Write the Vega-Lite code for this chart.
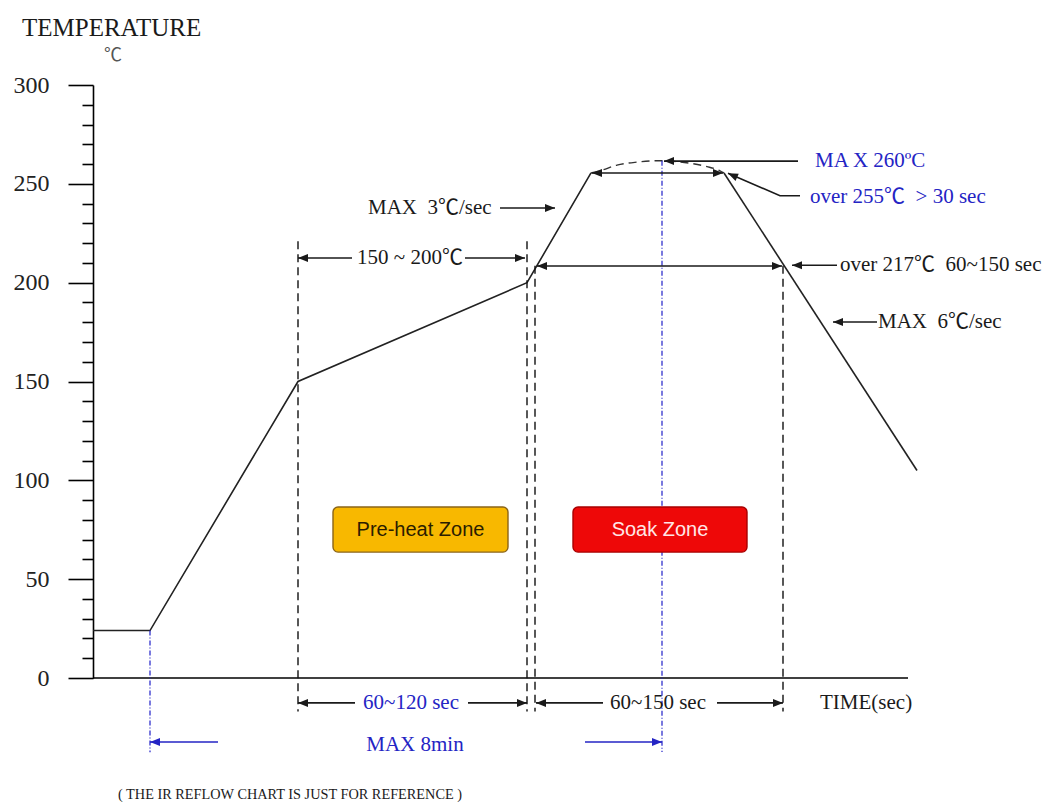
{
  "$schema": "https://vega.github.io/schema/vega-lite/v6.json",
  "width": 951,
  "height": 593,
  "autosize": {"type": "none"},
  "padding": {"left": 93, "top": 85, "right": 0, "bottom": 124},
  "background": "white",
  "config": {
    "view": {"stroke": null},
    "text": {"font": "Liberation Serif, Noto Sans CJK SC, serif", "baseline": "middle"}
  },
  "datasets": {
    "profile": [
      {"t": 0, "T": 24, "seg": "ramp"},
      {"t": 57, "T": 24, "seg": "ramp"},
      {"t": 205, "T": 150, "seg": "ramp"},
      {"t": 434, "T": 200, "seg": "ramp"},
      {"t": 498, "T": 255.5, "seg": "ramp"},
      {"t": 631, "T": 255.5, "seg": "cool"},
      {"t": 824, "T": 105, "seg": "cool"}
    ],
    "peak": [
      {"t": 498, "T": 255.5},
      {"t": 507, "T": 256.6},
      {"t": 524, "T": 259.5},
      {"t": 544, "T": 261},
      {"t": 567, "T": 261.7},
      {"t": 597, "T": 260.4},
      {"t": 614, "T": 258.7},
      {"t": 627, "T": 256.6},
      {"t": 631, "T": 255.5}
    ],
    "xaxis": [{"t": 0, "t2": 815, "T": 0}],
    "guides": [
      {"t": 205, "T": 221, "T2": -17},
      {"t": 434, "T": 221, "T2": -17},
      {"t": 442, "T": 208.5, "T2": -17},
      {"t": 690, "T": 208.5, "T2": -17}
    ],
    "timeGuides": [
      {"t": 57, "T": 24, "T2": -37.5},
      {"t": 569, "T": 261.7, "T2": -37.5}
    ],
    "segments": [
      {"t": 205, "t2": 259, "T": 212.5, "group": "spec"},
      {"t": 372, "t2": 432, "T": 212.5, "group": "spec"},
      {"t": 444, "t2": 689, "T": 208.4, "group": "spec"},
      {"t": 499, "t2": 630, "T": 255.5, "group": "spec"},
      {"t": 571, "t2": 705, "T": 261.5, "group": "spec"},
      {"t": 699, "t2": 744, "T": 208.8, "group": "spec"},
      {"t": 407, "t2": 462, "T": 237.8, "group": "spec"},
      {"t": 740, "t2": 784, "T": 180.1, "group": "spec"},
      {"t": 205, "t2": 262, "T": -12.6, "group": "spec"},
      {"t": 375, "t2": 434, "T": -12.6, "group": "spec"},
      {"t": 443, "t2": 510, "T": -12.6, "group": "spec"},
      {"t": 624, "t2": 690, "T": -12.6, "group": "spec"},
      {"t": 57, "t2": 125, "T": -32.4, "group": "limit"},
      {"t": 492, "t2": 569, "T": -32.4, "group": "limit"}
    ],
    "leader": [
      {"t": 635, "T": 255.3},
      {"t": 687, "T": 244},
      {"t": 707, "T": 244}
    ],
    "heads": [
      {"t": 205, "T": 212.5, "dir": "left", "group": "spec"},
      {"t": 432, "T": 212.5, "dir": "right", "group": "spec"},
      {"t": 444, "T": 208.4, "dir": "left", "group": "spec"},
      {"t": 689, "T": 208.4, "dir": "right", "group": "spec"},
      {"t": 499, "T": 255.5, "dir": "left", "group": "spec"},
      {"t": 630, "T": 255.5, "dir": "right", "group": "spec"},
      {"t": 571, "T": 261.5, "dir": "left", "group": "spec"},
      {"t": 699, "T": 208.8, "dir": "left", "group": "spec"},
      {"t": 462, "T": 237.8, "dir": "right", "group": "spec"},
      {"t": 740, "T": 180.1, "dir": "left", "group": "spec"},
      {"t": 205, "T": -12.6, "dir": "left", "group": "spec"},
      {"t": 434, "T": -12.6, "dir": "right", "group": "spec"},
      {"t": 443, "T": -12.6, "dir": "left", "group": "spec"},
      {"t": 690, "T": -12.6, "dir": "right", "group": "spec"},
      {"t": 635, "T": 255.3, "dir": "upleft", "group": "spec"},
      {"t": 57, "T": -32.4, "dir": "left", "group": "limit"},
      {"t": 569, "T": -32.4, "dir": "right", "group": "limit"}
    ],
    "notes": [
      {"t": 722, "T": 261.8, "label": "MA X 260ºC", "group": "limit"},
      {"t": 717, "T": 243.3, "label": "over 255℃\u00a0 > 30 sec", "group": "limit"},
      {"t": 747, "T": 208.8, "label": "over 217℃\u00a0 60~150 sec", "group": "spec"},
      {"t": 785, "T": 180.1, "label": "MAX\u00a0 6℃/sec", "group": "spec"},
      {"t": 275, "T": 237.8, "label": "MAX\u00a0 3℃/sec", "group": "spec"},
      {"t": 727, "T": -12.6, "label": "TIME(sec)", "group": "spec"}
    ],
    "dims": [
      {"t": 317, "T": 212.5, "label": "150 ~ 200℃", "group": "spec"},
      {"t": 318, "T": -12.6, "label": "60~120 sec", "group": "limit"},
      {"t": 565, "T": -12.6, "label": "60~150 sec", "group": "spec"},
      {"t": 322, "T": -33.9, "label": "MAX 8min", "group": "limit"}
    ],
    "zones": [
      {"zone": "Pre-heat Zone", "t": 240, "t2": 415, "T": 86.5, "T2": 63.7},
      {"zone": "Soak Zone", "t": 480, "t2": 654, "T": 86.5, "T2": 63.7}
    ],
    "zoneLabels": [
      {"zone": "Pre-heat Zone", "t": 327.5, "T": 75.1},
      {"zone": "Soak Zone", "t": 567, "T": 75.1}
    ]
  },
  "encoding": {
    "x": {"field": "t", "type": "quantitative", "scale": {"domain": [0, 951], "nice": false, "zero": false}, "axis": null},
    "y": {
      "field": "T", "type": "quantitative", "title": null,
      "scale": {"domain": [0, 300], "nice": false},
      "axis": {
        "values": [0,10,20,30,40,50,60,70,80,90,100,110,120,130,140,150,160,170,180,190,200,210,220,230,240,250,260,270,280,290,300],
        "tickSize": {"condition": {"test": "datum.value % 50 === 0", "value": 25}, "value": 11},
        "labelExpr": "datum.value % 50 === 0 ? datum.label : ''",
        "labelFont": "Liberation Serif",
        "labelFontSize": 24,
        "labelColor": "#222",
        "labelPadding": 19,
        "labelOverlap": false,
        "labelBound": false,
        "labelFlush": false,
        "domainColor": "#000",
        "domainWidth": 1.6,
        "tickColor": "#000",
        "tickWidth": 1.6,
        "grid": false
      }
    }
  },
  "layer": [
    {
      "data": {"name": "profile"},
      "mark": {"type": "line", "color": "#222", "strokeWidth": 1.6, "clip": false},
      "encoding": {"detail": {"field": "seg"}}
    },
    {
      "data": {"name": "peak"},
      "mark": {"type": "line", "color": "#333", "strokeWidth": 1.4, "strokeDash": [8, 5], "interpolate": "monotone", "clip": false},
      "encoding": {}
    },
    {
      "data": {"name": "xaxis"},
      "mark": {"type": "rule", "color": "#000", "strokeWidth": 1.6, "clip": false},
      "encoding": {"x2": {"field": "t2"}}
    },
    {
      "data": {"name": "guides"},
      "mark": {"type": "rule", "color": "#111", "strokeWidth": 1.4, "strokeDash": [8, 5], "clip": false},
      "encoding": {"y2": {"field": "T2"}}
    },
    {
      "data": {"name": "timeGuides"},
      "mark": {"type": "rule", "color": "#2020c8", "strokeWidth": 1.2, "strokeDash": [5, 2, 1, 2], "clip": false},
      "encoding": {"y2": {"field": "T2"}}
    },
    {
      "data": {"name": "zones"},
      "mark": {"type": "rect", "cornerRadius": 5, "strokeWidth": 1.4, "clip": false},
      "encoding": {
        "x2": {"field": "t2"},
        "y2": {"field": "T2"},
        "fill": {"field": "zone", "type": "nominal", "scale": {"domain": ["Pre-heat Zone", "Soak Zone"], "range": ["#f8b800", "#ee0808"]}, "legend": null},
        "stroke": {"field": "zone", "type": "nominal", "scale": {"domain": ["Pre-heat Zone", "Soak Zone"], "range": ["#8a6418", "#a80000"]}, "legend": null}
      }
    },
    {
      "data": {"name": "zoneLabels"},
      "transform": [{"filter": "datum.zone === 'Pre-heat Zone'"}],
      "mark": {"type": "text", "font": "Liberation Sans", "fontSize": 20, "color": "#2b1d00", "align": "center", "clip": false},
      "encoding": {"text": {"field": "zone"}}
    },
    {
      "data": {"name": "zoneLabels"},
      "transform": [{"filter": "datum.zone === 'Soak Zone'"}],
      "mark": {"type": "text", "font": "Liberation Sans", "fontSize": 20, "color": "#ffe6e6", "align": "center", "clip": false},
      "encoding": {"text": {"field": "zone"}}
    },
    {
      "data": {"name": "segments"},
      "mark": {"type": "rule", "strokeWidth": 1.6, "clip": false},
      "encoding": {
        "x2": {"field": "t2"},
        "color": {"field": "group", "type": "nominal", "scale": {"domain": ["spec", "limit"], "range": ["#1a1a1a", "#2424c4"]}, "legend": null}
      }
    },
    {
      "data": {"name": "leader"},
      "mark": {"type": "line", "color": "#1a1a1a", "strokeWidth": 1.6, "clip": false},
      "encoding": {}
    },
    {
      "data": {"name": "heads"},
      "mark": {"type": "point", "filled": true, "size": 100, "opacity": 1, "strokeWidth": 0, "clip": false},
      "encoding": {
        "shape": {"field": "dir", "type": "nominal", "scale": {"domain": ["left", "right", "upleft"], "range": ["M0,0L2,-0.8L2,0.8Z", "M0,0L-2,-0.8L-2,0.8Z", "M0,0L1.504,1.541L2.152,0.079Z"]}, "legend": null},
        "color": {"field": "group", "type": "nominal", "legend": null}
      }
    },
    {
      "data": {"name": "notes"},
      "mark": {"type": "text", "fontSize": 21, "align": "left", "clip": false},
      "encoding": {
        "text": {"field": "label"},
        "color": {"field": "group", "type": "nominal", "legend": null}
      }
    },
    {
      "data": {"name": "dims"},
      "mark": {"type": "text", "fontSize": 21, "align": "center", "clip": false},
      "encoding": {
        "text": {"field": "label"},
        "color": {"field": "group", "type": "nominal", "legend": null}
      }
    },
    {
      "data": {"values": [{"t": -71, "T": 328.8, "label": "TEMPERATURE"}]},
      "mark": {"type": "text", "fontSize": 25, "align": "left", "color": "#1a1a1a", "clip": false},
      "encoding": {"text": {"field": "label"}}
    },
    {
      "data": {"values": [{"t": 20, "T": 314.7, "label": "℃"}]},
      "mark": {"type": "text", "fontSize": 18, "align": "center", "color": "#555", "clip": false},
      "encoding": {"text": {"field": "label"}}
    },
    {
      "data": {"values": [{"t": 25, "T": -59, "label": "( THE IR REFLOW CHART IS JUST FOR REFERENCE )"}]},
      "mark": {"type": "text", "fontSize": 14.3, "align": "left", "color": "#1a1a1a", "clip": false},
      "encoding": {"text": {"field": "label"}}
    }
  ]
}
